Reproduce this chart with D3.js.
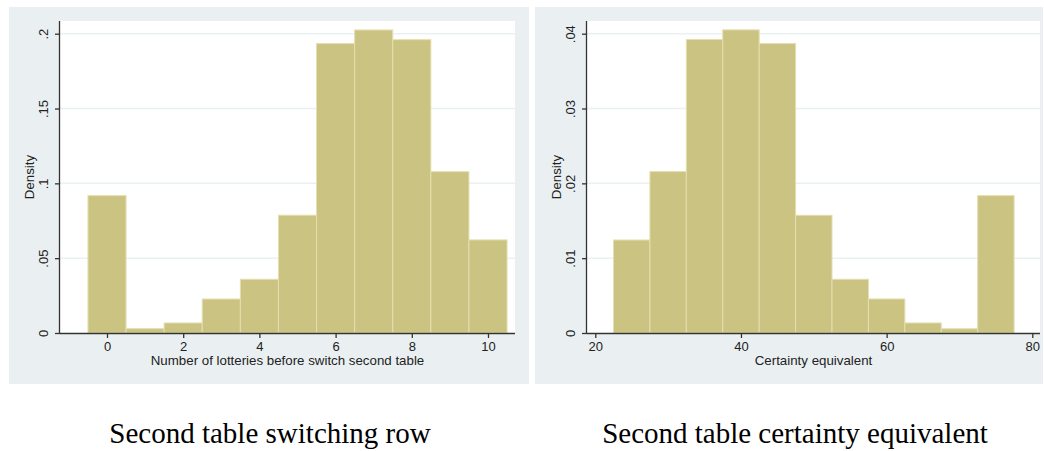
<!DOCTYPE html>
<html>
<head>
<meta charset="utf-8">
<script src="https://cdn.jsdelivr.net/npm/d3@7"></script>
<style>
  body { margin: 0; background: #fff; }
  svg { display: block; }
  .tick-label { font-family: Arial, "Liberation Sans", sans-serif; font-size: 13px; fill: #222; }
  .axis-title { font-family: Arial, "Liberation Sans", sans-serif; font-size: 13.3px; fill: #222; }
  .caption { font-family: "Liberation Serif", "Times New Roman", serif; font-size: 29px; fill: #000; }
</style>
</head>
<body>
<svg></svg>
<script>
// ---- data ----
// left: switching row, unit-width bins centred on integers
const switchRows = [0, 1, 2, 3, 4, 5, 6, 7, 8, 9, 10];
const switchDensity = [0.0918, 0.0029, 0.0067, 0.0227, 0.0359, 0.0787, 0.1934, 0.2025, 0.196, 0.1078, 0.0622];
const switchXTicks = [0, 2, 4, 6, 8, 10];
const switchYTicks = [0, 0.05, 0.1, 0.15, 0.2];
const switchYLabels = ['0', '.05', '.1', '.15', '.2'];

// right: certainty equivalent, bins of width 5 starting at 22.5
const ceBinStart = [22.5, 27.5, 32.5, 37.5, 42.5, 47.5, 52.5, 57.5, 62.5, 67.5, 72.5];
const ceDensity = [0.01243, 0.02157, 0.03922, 0.04051, 0.03868, 0.01573, 0.00718, 0.00455, 0.00134, 0.00057, 0.01836];
const ceXTicks = [20, 40, 60, 80];
const ceYTicks = [0, 0.01, 0.02, 0.03, 0.04];
const ceYLabels = ['0', '.01', '.02', '.03', '.04'];

const captions = ['Second table switching row', 'Second table certainty equivalent'];

const size = {w: 1044, h: 451};
const svg = d3.select('svg').attr('width', size.w).attr('height', size.h);

const barFill = '#cbc382';
const barStroke = '#e4deb0';
const outerBg = '#eaf0f2';
const gridCol = '#eaf1f3';
const axisCol = '#333';

function drawPanel(opt) {
    const g = svg.append('g');

    // outer graph region
    g.append('rect')
        .attr('x', opt.outer[0]).attr('y', opt.outer[1])
        .attr('width', opt.outer[2] - opt.outer[0])
        .attr('height', opt.outer[3] - opt.outer[1])
        .attr('fill', outerBg);

    // plot region
    g.append('rect')
        .attr('x', opt.plot[0]).attr('y', opt.plot[1])
        .attr('width', opt.plot[2] - opt.plot[0])
        .attr('height', opt.plot[3] - opt.plot[1])
        .attr('fill', '#fff');

    const x = d3.scaleLinear().domain(opt.xDom).range(opt.xRange);
    const y = d3.scaleLinear().domain(opt.yDom).range([opt.plot[3], opt.yTop]);

    // gridlines
    g.selectAll('line.grid')
        .data(opt.yTicks.slice(1))
        .join('line')
        .attr('x1', opt.plot[0]).attr('x2', opt.plot[2])
        .attr('y1', d => y(d)).attr('y2', d => y(d))
        .attr('stroke', gridCol).attr('stroke-width', 1.5);

    // bars
    g.selectAll('rect.bar')
        .data(opt.bars)
        .join('rect')
        .attr('x', d => x(d.x0))
        .attr('width', d => x(d.x1) - x(d.x0))
        .attr('y', d => y(d.v))
        .attr('height', d => y(0) - y(d.v))
        .attr('fill', barFill)
        .attr('stroke', barStroke)
        .attr('stroke-width', 1);

    // axes
    const xAxis = d3.axisBottom(x).tickValues(opt.xTicks).tickSize(5).tickPadding(4);
    const gx = g.append('g')
        .attr('transform', `translate(0,${opt.plot[3]})`)
        .call(xAxis);
    gx.select('.domain').attr('d', `M${opt.plot[0]},0.5H${opt.plot[2]}`);
    gx.selectAll('.domain, .tick line').attr('stroke', axisCol).attr('stroke-width', 1.3);
    gx.selectAll('.tick text').attr('class', 'tick-label').attr('font-family', null).attr('font-size', null);

    const yAxis = d3.axisLeft(y).tickValues(opt.yTicks).tickSize(5)
        .tickFormat((d, i) => opt.yLabels[i]);
    const gy = g.append('g')
        .attr('transform', `translate(${opt.plot[0]},0)`)
        .call(yAxis);
    gy.select('.domain').attr('d', `M-0.5,${opt.plot[1]}V${opt.plot[3]}`);
    gy.selectAll('.domain, .tick line').attr('stroke', axisCol).attr('stroke-width', 1.3);
    gy.selectAll('.tick text')
        .attr('class', 'tick-label')
        .attr('font-family', null).attr('font-size', null)
        .attr('x', null).attr('dy', null)
        .attr('text-anchor', 'middle')
        .attr('transform', 'translate(-12,0) rotate(-90)');

    // axis titles
    g.append('text')
        .attr('class', 'axis-title')
        .attr('x', (opt.plot[0] + opt.plot[2]) / 2)
        .attr('y', opt.plot[3] + 32)
        .attr('text-anchor', 'middle')
        .text(opt.xTitle);

    g.append('text')
        .attr('class', 'axis-title')
        .attr('transform', `translate(${opt.plot[0] - 26},177) rotate(-90)`)
        .attr('text-anchor', 'middle')
        .text('Density');

    // caption under the graph
    svg.append('text')
        .attr('class', 'caption')
        .attr('x', opt.captionX)
        .attr('y', 443)
        .attr('text-anchor', 'middle')
        .text(opt.caption);
}

drawPanel({
    outer: [9, 7, 529, 384],
    plot: [60, 21, 515, 333],
    yTop: 33.7,
    xDom: [0, 10], xRange: [107, 488],
    yDom: [0, 0.2],
    xTicks: switchXTicks,
    yTicks: switchYTicks, yLabels: switchYLabels,
    bars: switchRows.map((r, i) => ({x0: r - 0.5, x1: r + 0.5, v: switchDensity[i]})),
    xTitle: 'Number of lotteries before switch second table',
    caption: captions[0], captionX: 270
});

drawPanel({
    outer: [535, 7, 1043, 384],
    plot: [587, 21, 1040, 333],
    yTop: 33.7,
    xDom: [20, 80], xRange: [595.3, 1032.3],
    yDom: [0, 0.04],
    xTicks: ceXTicks,
    yTicks: ceYTicks, yLabels: ceYLabels,
    bars: ceBinStart.map((s, i) => ({x0: s, x1: s + 5, v: ceDensity[i]})),
    xTitle: 'Certainty equivalent',
    caption: captions[1], captionX: 795
});
</script>
</body>
</html>
